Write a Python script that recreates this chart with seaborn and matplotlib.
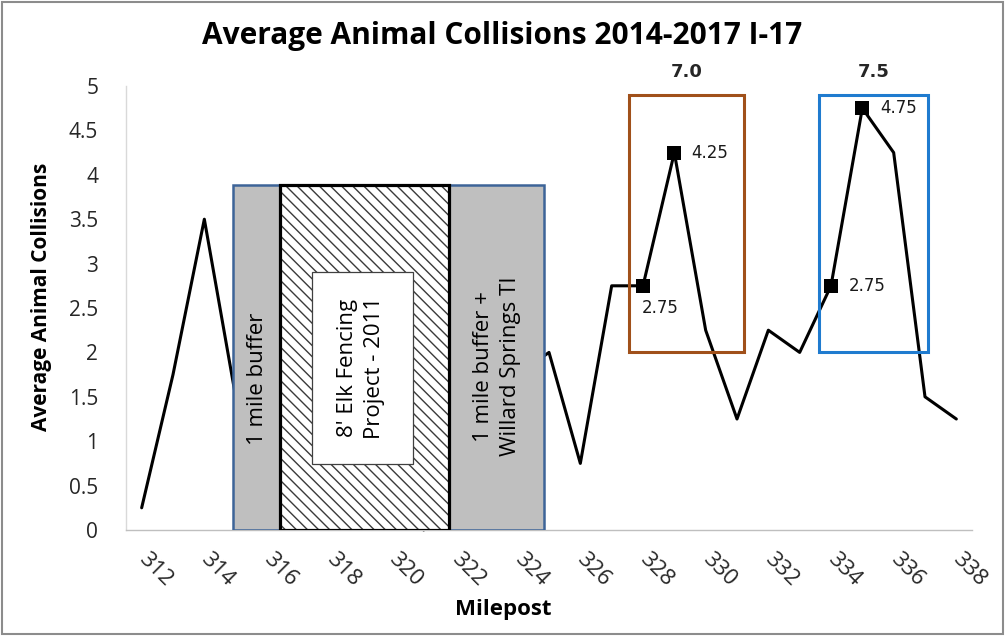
import matplotlib
matplotlib.use("Agg")
import matplotlib.pyplot as plt
from matplotlib.patches import Rectangle
import seaborn as sns
import pandas as pd

# Average collisions per milepost, I-17
mileposts = list(range(312, 339))
collisions = [0.25, 1.75, 3.5, 1.5, 1.0, 0.5, 0.75, 0.25, 0.5, 0.0,
              0.75, 1.0, 1.75, 2.0, 0.75, 2.75, 2.75, 4.25, 2.25, 1.25,
              2.25, 2.0, 2.75, 4.75, 4.25, 1.5, 1.25]

# Highlighted hot-spot pairs (milepost pairs whose sums are labelled)
hotspot_a = [328, 329]
hotspot_b = [334, 335]

x_tick_values = list(range(312, 339, 2))
y_tick_values = [0, 0.5, 1, 1.5, 2, 2.5, 3, 3.5, 4, 4.5, 5]
y_tick_labels = ["0", "0.5", "1", "1.5", "2", "2.5", "3", "3.5", "4", "4.5", "5"]

title_text = "Average Animal Collisions 2014-2017 I-17"
x_title = "Milepost"
y_title = "Average Animal Collisions"
buffer_left_text = "1 mile buffer"
fence_text = "8' Elk Fencing\nProject - 2011"
buffer_right_text = "1 mile buffer +\nWillard Springs TI"

df = pd.DataFrame({"milepost": mileposts, "collisions": collisions})
lookup = dict(zip(mileposts, collisions))
hot = df[df["milepost"].isin(hotspot_a + hotspot_b)]

sns.set_theme(style="white")
plt.rcParams["font.family"] = ["Open Sans", "DejaVu Sans"]
plt.rcParams["hatch.linewidth"] = 1.0

W, H = 1005, 636
fig = plt.figure(figsize=(W / 100, H / 100), dpi=100)
ax = fig.add_axes([126 / W, 1 - 530 / H, (972 - 126) / W, (530 - 86) / H])

# collision line (sits under the project shapes)
sns.lineplot(data=df, x="milepost", y="collisions", color="black",
             linewidth=2.2, ax=ax, zorder=2, clip_on=False)

# fencing project shapes
ax.add_patch(Rectangle((314.9, 0), 324.85 - 314.9, 3.89, facecolor="#BFBFBF",
                       edgecolor="#3D6498", linewidth=1.8, zorder=3))
ax.add_patch(Rectangle((316.4, 0), 321.8 - 316.4, 3.89, facecolor="white",
                       edgecolor="#3A3A3A", linewidth=0, hatch="\\\\\\", zorder=4))
ax.add_patch(Rectangle((316.4, 0), 321.8 - 316.4, 3.89, fill=False,
                       edgecolor="black", linewidth=2.3, zorder=5))
ax.add_patch(Rectangle((317.43, 0.745), 320.66 - 317.43, 2.91 - 0.745,
                       facecolor="white", edgecolor="#404040", linewidth=0.9, zorder=6))

box_font = dict(fontsize=16, color="black", rotation=90, ha="center",
                va="center", linespacing=1.4, zorder=7)
ax.text(315.7, 1.70, buffer_left_text, **box_font)
ax.text(319.0, 1.83, fence_text, **box_font)
ax.text(323.34, 1.84, buffer_right_text, **box_font)

# hot-spot frames
ax.add_patch(Rectangle((327.56, 2.0), 331.23 - 327.56, 2.9, fill=False,
                       edgecolor="#A0501A", linewidth=2.2, zorder=3))
ax.add_patch(Rectangle((333.63, 2.0), 337.11 - 333.63, 2.9, fill=False,
                       edgecolor="#1F7BCF", linewidth=2.2, zorder=3))

sns.scatterplot(data=hot, x="milepost", y="collisions", marker="s", s=95,
                color="black", linewidth=0, ax=ax, zorder=8)

lab_font = dict(family="DejaVu Sans", fontsize=12, color="#1A1A1A",
                textcoords="offset pixels")
ax.annotate(f"{lookup[328]:.2f}", (328, lookup[328]), xytext=(-1, -22),
            ha="left", va="center", **lab_font)
ax.annotate(f"{lookup[329]:.2f}", (329, lookup[329]), xytext=(17, 0),
            ha="left", va="center", **lab_font)
ax.annotate(f"{lookup[334]:.2f}", (334, lookup[334]), xytext=(18, 0),
            ha="left", va="center", **lab_font)
ax.annotate(f"{lookup[335]:.2f}", (335, lookup[335]), xytext=(18, 0),
            ha="left", va="center", **lab_font)

sum_a = sum(lookup[m] for m in hotspot_a)
sum_b = sum(lookup[m] for m in hotspot_b)
sum_font = dict(family="DejaVu Sans", fontsize=13, fontweight="bold",
                textcoords="offset pixels", ha="center", va="bottom")
ax.annotate(f"{sum_a:.1f}", ((327.56 + 331.23) / 2, 4.9), xytext=(0, 14), **sum_font)
ax.annotate(f"{sum_b:.1f}", ((333.63 + 337.11) / 2, 4.9), xytext=(0, 14), **sum_font)

# axes
ax.set_xlim(311.5, 338.5)
ax.set_ylim(0, 5)
ax.set_xticks(x_tick_values)
ax.set_xticklabels([str(v) for v in x_tick_values], rotation=-45, ha="left",
                   va="center", rotation_mode="anchor", fontsize=16)
ax.set_yticks(y_tick_values)
ax.set_yticklabels(y_tick_labels, fontsize=15)
ax.tick_params(axis="x", length=0, pad=19, colors="#262626")
ax.tick_params(axis="y", length=0, pad=20, colors="#262626")
ax.set_xlabel("")
ax.set_ylabel("")
for side in ("top", "right"):
    ax.spines[side].set_visible(False)
ax.spines["left"].set_color("#D9D9D9")
ax.spines["bottom"].set_color("#BFBFBF")
ax.spines["left"].set_linewidth(1)
ax.spines["bottom"].set_linewidth(1)
ax.grid(False)

fig.text(502 / W, 1 - 44 / H, title_text, ha="center", va="baseline",
         fontsize=21.5, fontweight="bold", color="black")
fig.text(503 / W, 1 - 615 / H, x_title, ha="center", va="baseline",
         fontsize=16, fontweight="bold", color="black")
fig.text(41 / W, 1 - 297 / H, y_title, ha="center", va="center", rotation=90,
         fontsize=15, fontweight="bold", color="black")

fig.add_artist(Rectangle((0.002, 0.003), 0.996, 0.994, transform=fig.transFigure,
                         fill=False, edgecolor="#8C8C8C", linewidth=1.5))

fig.savefig("out.png", dpi=100)
